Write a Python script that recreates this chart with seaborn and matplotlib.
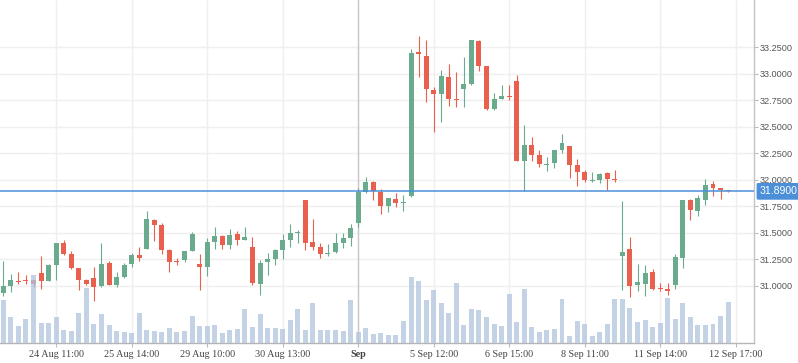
import numpy as np
import pandas as pd
import matplotlib
matplotlib.use("Agg")
import matplotlib.pyplot as plt
import seaborn as sns
from matplotlib.transforms import blended_transform_factory

# ---------------- data ----------------
opens = [30.931, 30.994, 31.044, 31.053, 31.053, 31.116, 31.044, 31.192, 31.399, 31.296,
         31.164, 31.050, 31.069, 30.994, 31.211, 31.003, 31.079, 31.201, 31.286, 31.343,
         31.616, 31.569, 31.333, 31.230, 31.239, 31.324, 31.201, 31.173, 31.409, 31.465,
         31.380, 31.484, 31.428, 31.362, 31.013, 31.220, 31.248, 31.333, 31.428, 31.494,
         31.805, 31.409, 31.362, 31.299, 31.314, 31.399, 31.447, 31.588, 31.881, 31.975,
         31.881, 31.748, 31.814, 31.780, 31.846, 33.201, 33.164, 32.843, 32.805, 32.965,
         32.758, 32.852, 32.899, 33.305, 33.069, 32.663, 32.758, 32.786, 32.928, 32.173,
         32.324, 32.230, 32.138, 32.154, 32.277, 32.314, 32.135, 32.069, 31.987, 31.997,
         32.063, 32.006, 31.277, 31.343, 31.003, 31.013, 31.126, 30.975, 30.965, 31.003,
         31.258, 31.805, 31.701, 31.805, 31.956, 31.918, 31.895]
highs = [31.230, 31.107, 31.126, 31.097, 31.066, 31.277, 31.201, 31.399, 31.428, 31.324,
         31.170, 31.060, 31.173, 31.399, 31.230, 31.126, 31.217, 31.305, 31.362, 31.701,
         31.626, 31.588, 31.343, 31.258, 31.324, 31.506, 31.296, 31.447, 31.550, 31.475,
         31.531, 31.513, 31.550, 31.456, 31.239, 31.305, 31.343, 31.484, 31.579, 31.522,
         31.805, 31.626, 31.399, 31.390, 31.494, 31.494, 31.579, 31.918, 32.022, 31.984,
         31.909, 31.824, 31.871, 31.852, 33.230, 33.352, 33.314, 32.871, 33.031, 33.088,
         33.013, 33.154, 33.314, 33.314, 33.069, 32.814, 32.890, 32.890, 32.984, 32.513,
         32.399, 32.277, 32.211, 32.277, 32.428, 32.314, 32.192, 32.088, 32.069, 32.063,
         32.069, 32.088, 31.796, 31.456, 31.201, 31.192, 31.154, 31.022, 31.022, 31.296,
         31.805, 31.814, 31.852, 32.003, 31.984, 31.918, 31.895]
lows = [30.903, 30.940, 31.016, 31.016, 30.987, 30.965, 31.044, 31.050, 31.286, 31.154,
        30.956, 31.003, 30.855, 30.987, 31.003, 30.987, 31.069, 31.173, 31.230, 31.343,
        31.418, 31.296, 31.126, 31.192, 31.220, 31.324, 30.959, 31.088, 31.343, 31.343,
        31.343, 31.380, 31.428, 31.003, 30.909, 31.097, 31.192, 31.248, 31.362, 31.399,
        31.333, 31.333, 31.258, 31.277, 31.305, 31.352, 31.371, 31.550, 31.871, 31.805,
        31.673, 31.692, 31.742, 31.704, 31.836, 32.965, 32.730, 32.447, 32.541, 32.692,
        32.682, 32.682, 32.890, 33.022, 32.654, 32.654, 32.758, 32.748, 32.173, 31.896,
        32.173, 32.116, 32.079, 32.107, 32.248, 32.013, 31.937, 31.975, 31.978, 31.969,
        31.899, 31.978, 30.956, 30.890, 30.947, 30.900, 30.956, 30.947, 30.909, 30.965,
        31.164, 31.616, 31.654, 31.758, 31.843, 31.814, 31.885]
closes = [31.000, 31.050, 31.035, 31.044, 31.019, 31.044, 31.192, 31.399, 31.296, 31.164,
          31.053, 31.016, 30.984, 31.201, 31.003, 31.079, 31.192, 31.286, 31.258, 31.626,
          31.569, 31.333, 31.223, 31.223, 31.324, 31.484, 31.173, 31.409, 31.465, 31.380,
          31.475, 31.428, 31.456, 31.022, 31.211, 31.248, 31.333, 31.428, 31.494, 31.506,
          31.399, 31.362, 31.296, 31.308, 31.399, 31.447, 31.541, 31.881, 31.975, 31.890,
          31.748, 31.824, 31.780, 31.792, 33.192, 33.182, 32.852, 32.805, 32.975, 32.758,
          32.748, 32.899, 33.314, 33.069, 32.663, 32.758, 32.786, 32.777, 32.173, 32.324,
          32.230, 32.145, 32.148, 32.277, 32.343, 32.135, 32.069, 31.994, 31.997, 32.053,
          32.006, 31.997, 31.314, 30.994, 31.031, 31.116, 30.965, 30.965, 30.947, 31.267,
          31.805, 31.711, 31.824, 31.947, 31.918, 31.899, 31.890]
volumes = [43.5, 26.5, 17.5, 24.5, 68.5, 20.5, 20.5, 26.5, 13.5, 12.5,
           30.5, 55.5, 19.5, 29.5, 18.5, 12.5, 11.5, 10.5, 30.5, 13.5,
           12.5, 11.5, 15.5, 11.5, 12.5, 27.5, 17.5, 16.7, 17.7, 9.7,
           12.7, 13.7, 33.7, 15.7, 28.7, 14.7, 14.7, 13.7, 22.7, 33.7,
           12.7, 39.7, 12.7, 12.7, 12.7, 11.7, 42.7, 10.7, 14.7, 8.7,
           9.7, 7.8, 8.0, 21.7, 65.7, 61.7, 42.7, 52.7, 39.7, 29.7,
           59.7, 17.7, 33.7, 32.7, 25.7, 18.7, 16.7, 48.7, 20.7, 53.7,
           15.7, 10.7, 12.7, 13.7, 43.7, 6.7, 21.7, 19.5, 7.3, 11.3,
           19.3, 44.3, 44.3, 35.3, 21.3, 23.3, 16.3, 20.3, 45.3, 24.3,
           40.3, 26.3, 18.3, 18.3, 19.3, 27.3, 41.3]
tick_positions = [7, 17, 27, 37, 47, 57, 67, 77, 87, 97]
tick_labels = ["24 Aug 11:00", "25 Aug 14:00", "29 Aug 10:00", "30 Aug 13:00", "Sep",
               "5 Sep 12:00", "6 Sep 15:00", "8 Sep 11:00", "11 Sep 14:00", "12 Sep 17:00"]
price_ticks = [31.0, 31.25, 31.5, 31.75, 32.0, 32.25, 32.5, 32.75, 33.0, 33.25]
last_price = 31.89

df = pd.DataFrame({"open": opens, "high": highs, "low": lows, "close": closes, "volume": volumes})
df["idx"] = np.arange(len(df))

UP = "#6aab8d"
DOWN = "#e9604f"
GRID = "#efefef"

sns.set_theme(style="white")
plt.rcParams["font.family"] = ["Liberation Sans", "DejaVu Sans"]

fig = plt.figure(figsize=(7.98, 3.63), dpi=100)
ax = fig.add_axes([0, 20 / 363, 754 / 798, 343 / 363])
ax2 = ax.twinx()  # volume axis, drawn above the candles

up = df["close"] >= df["open"]
colors = np.where(up, UP, DOWN)
body_lo = np.minimum(df["open"], df["close"])
body_h = np.maximum(np.abs(df["close"] - df["open"]), 0.012)

ax.vlines(df["idx"], df["low"], df["high"], colors=colors, linewidth=0.8, zorder=3)
ax.bar(df["idx"], body_h, bottom=body_lo, width=0.66, color=colors, linewidth=0, zorder=4)

ax.axhline(last_price, color="#4a8fd8", linewidth=1.1, zorder=5)
sep_pos = tick_positions[tick_labels.index("Sep")]
ax.axvline(sep_pos, color="#c9c9c9", linewidth=1.0, zorder=2)

sns.barplot(data=df, x="idx", y="volume", native_scale=True, ax=ax2, color="#b0c4de",
            saturation=1, width=0.66, alpha=0.75, linewidth=0, zorder=6)
ax2.set_ylim(0, 343)
ax2.set_yticks([])
ax2.set_ylabel("")
ax2.set_xlabel("")
for s in ax2.spines.values():
    s.set_visible(False)
ax2.grid(False)
ax2.tick_params(axis="y", which="both", right=False, left=False, labelright=False, labelleft=False)

ax.set_xlim(-0.44, 99.43)
ax.set_ylim(30.459, 33.695)
ax.set_xticks(tick_positions)
ax.set_xticklabels(tick_labels, fontfamily=["Liberation Serif", "DejaVu Serif"], fontsize=7.3, color="#444444")
for lbl in ax.get_xticklabels():
    if lbl.get_text() == "Sep":
        lbl.set_fontweight("bold")
ax.set_yticks(price_ticks)
ax.set_yticklabels([f"{v:.4f}" for v in price_ticks], fontsize=6.6, color="#555555")
ax.yaxis.tick_right()
ax.yaxis.set_label_position("right")
ax.tick_params(axis="y", which="both", right=True, left=False, labelright=True, labelleft=False,
               length=3, width=0.8, color="#bbbbbb", pad=1)
ax.tick_params(axis="x", which="both", bottom=True, length=3, width=0.8, color="#bbbbbb", pad=2)
ax.grid(True, color=GRID, linewidth=1.0, zorder=0)
ax.set_axisbelow(True)
ax.set_xlabel("")
ax.set_ylabel("")
for s in ["left", "top"]:
    ax.spines[s].set_visible(False)
ax.spines["right"].set_color("#c4c4c4")
ax.spines["bottom"].set_color("#b5b5b5")
ax.spines["right"].set_linewidth(1.0)
ax.spines["bottom"].set_linewidth(1.0)

trans = blended_transform_factory(ax.transAxes, ax.transData)
ax2.text(1.0 + 6 / 754, last_price, f"{last_price:.4f}", transform=trans, ha="left", va="center",
         color="white", fontsize=7.6, zorder=10, clip_on=False,
         bbox=dict(boxstyle="round,pad=0.32,rounding_size=0.15", fc="#4a8fd8", ec="none"))

fig.savefig("out.png", dpi=100)
